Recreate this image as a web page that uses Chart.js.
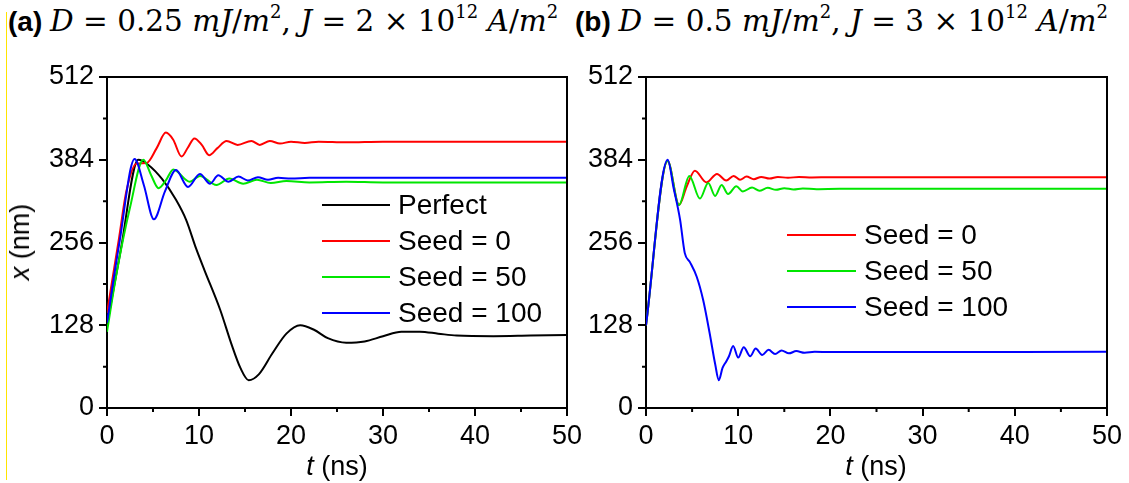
<!DOCTYPE html>
<html>
<head>
<meta charset="utf-8">
<script src="https://cdn.jsdelivr.net/npm/chart.js@4.4.0/dist/chart.umd.min.js"></script>
<style>
  body { margin: 0; background: #fff; width: 1129px; height: 483px; position: relative; overflow: hidden;
         font-family: "Liberation Sans", Arial, sans-serif; color: #000; }
  .edge { position: absolute; left: 6px; top: 12px; width: 1px; height: 468px; background: #ffe400; }
  canvas { position: absolute; top: 0; }
  .hdr { position: absolute; top: 3px; white-space: nowrap; font-size: 28px; line-height: 36px; }
  .hdr b { font-family: "Liberation Sans", Arial, sans-serif; }
  .m { font-family: "DejaVu Serif", serif; font-size: 29.5px; }
  .m sup { font-size: 18px; vertical-align: 13px; line-height: 0; }
  .at { position: absolute; font-size: 27px; white-space: nowrap; line-height: 30px; }
</style>
</head>
<body>
<div class="edge"></div>
<div class="hdr" style="left:8px"><b>(a)</b> <span class="m"><i>D</i> = 0.25 <i>mJ</i>/<i>m</i><sup>2</sup>, <i>J</i> = 2 × 10<sup>12</sup> <i>A</i>/<i>m</i><sup>2</sup></span></div>
<div class="hdr" style="left:575px"><b>(b)</b> <span class="m"><i>D</i> = 0.5 <i>mJ</i>/<i>m</i><sup>2</sup>, <i>J</i> = 3 × 10<sup>12</sup> <i>A</i>/<i>m</i><sup>2</sup></span></div>

<canvas id="chartA" width="600" height="483" style="left:0"></canvas>
<canvas id="chartB" width="569" height="483" style="left:560px"></canvas>

<div class="at" style="left:20px; top:242px; transform: translate(-50%,-50%) rotate(-90deg);"><i>x</i> (nm)</div>
<div class="at" style="left:337px; top:451px; transform: translateX(-50%);"><i>t</i> (ns)</div>
<div class="at" style="left:876px; top:451px; transform: translateX(-50%);"><i>t</i> (ns)</div>

<script>
// axis ticks
const xTicks = [0, 10, 20, 30, 40, 50];
const yTicks = [0, 128, 256, 384, 512];
const xMinor = [5, 15, 25, 35, 45];
const yMinor = [64, 192, 320, 448];

const seriesNames = ['Perfect', 'Seed = 0', 'Seed = 50', 'Seed = 100'];
const seriesColors = ['#000000', '#ff0000', '#00e600', '#0000ff'];

// (a) D = 0.25, J = 2e12
const tPerfectA = [0, 1.5, 3.4, 4.5, 6, 7.5, 8.6, 9.7, 10.6, 12.3, 13.5, 14.5, 15.4, 16.5, 18, 19.5, 21, 22.5, 24, 26, 28, 30, 32, 34, 36, 38, 42, 46, 50];
const xPerfectA = [128, 245, 384, 376, 354, 322, 291, 246, 213, 152, 100, 62, 43, 52, 85, 115, 128, 121, 108, 101, 103, 111, 118, 118, 115, 112, 111, 112, 113];

const tSeed0A = [0, 1.3, 2.1, 3.2, 4.3, 5.4, 6.4, 7.2, 8.1, 8.8, 9.5, 10.3, 11.1, 12, 13, 14.2, 15.7, 16.6, 17.7, 18.8, 20, 21.5, 23, 26, 30, 40, 50];
const xSeed0A = [147, 262, 335, 378, 379, 402, 426, 415, 389, 403, 417, 407, 391, 402, 413, 407, 413, 407, 413, 409, 412, 410, 412, 411, 412, 412, 412];

const tSeed50A = [0, 1.05, 2.5, 3.95, 4.8, 5.6, 6.4, 7.2, 9, 10.1, 11.9, 13.3, 14.8, 16.3, 17.8, 19.5, 22, 26, 30, 40, 50];
const xSeed50A = [118, 209, 310, 384, 360, 340, 352, 369, 350, 359, 345, 355, 347, 353, 348, 351, 349, 350, 349, 349, 349];

const tSeed100A = [0, 1.35, 3.0, 4.0, 5.1, 6.3, 7.5, 8.8, 10.1, 11.2, 12.1, 13.2, 14.3, 15.3, 16.4, 17.5, 18.6, 20, 22, 25, 30, 40, 50];
const xSeed100A = [132, 256, 385, 345, 292, 335, 368, 342, 362, 347, 360, 350, 358, 352, 357, 353, 356, 355, 356, 356, 356, 356, 356];

// (b) D = 0.5, J = 3e12
const tSeed0B = [0, 2.35, 3.58, 4.4, 5.3, 6.55, 7.7, 8.7, 9.5, 10.2, 10.9, 11.7, 12.5, 13.4, 14.3, 15.4, 16.6, 18, 20, 25, 50];
const xSeed0B = [128, 382, 314, 342, 367, 349, 362, 352, 359, 353, 358, 354, 357.5, 355, 357.5, 356, 357.5, 356.5, 357, 357, 357];

const tSeed50B = [0, 2.35, 3.58, 4.7, 5.85, 6.75, 7.5, 8.2, 8.9, 9.8, 10.5, 11.5, 12.3, 13.2, 14.1, 15, 16, 17, 18.5, 21, 50];
const xSeed50B = [128, 382, 314, 359, 324, 348, 328, 345, 331, 343, 335, 341, 336, 340.5, 337.5, 340, 338, 339.5, 338.5, 339, 339];

const tSeed100B = [0, 2.35, 3.0, 3.7, 4.2, 4.75, 5.5, 6.2, 6.9, 7.5, 7.9, 8.3, 8.7, 9.0, 9.45, 10.0, 10.6, 11.3, 11.9, 12.6, 13.3, 14, 14.7, 15.5, 16.3, 17.2, 18.3, 20, 50];
const xSeed100B = [128, 384, 340, 291, 240, 226, 203, 167, 116, 68, 43, 62, 72, 80, 96, 78, 94, 80, 92, 82, 90, 83.5, 89, 84.5, 88, 85.5, 87, 86.5, 87];

const FONT = '"Liberation Sans", Arial, sans-serif';

function pts(ts, xs) {
  return ts.map((t, i) => ({ x: t, y: xs[i] }));
}

function line(idx, ts, xs) {
  return {
    label: seriesNames[idx],
    data: pts(ts, xs),
    borderColor: seriesColors[idx],
    borderWidth: 2,
    pointRadius: 0,
    cubicInterpolationMode: 'monotone',
    order: 4 - idx,
  };
}

// top/right frame, minor ticks and the legend inside the plot
const framePlugin = {
  id: 'framePlugin',
  afterDraw(chart, args, opts) {
    const ctx = chart.ctx, a = chart.chartArea;
    const sx = chart.scales.x, sy = chart.scales.y;
    ctx.save();
    ctx.strokeStyle = '#000';
    ctx.lineWidth = 2;
    ctx.beginPath();
    ctx.moveTo(a.left, a.top);
    ctx.lineTo(a.right, a.top);
    ctx.lineTo(a.right, a.bottom);
    xMinor.forEach(v => {
      const px = sx.getPixelForValue(v);
      ctx.moveTo(px, a.bottom);
      ctx.lineTo(px, a.bottom + 4);
    });
    yMinor.forEach(v => {
      const py = sy.getPixelForValue(v);
      ctx.moveTo(a.left, py);
      ctx.lineTo(a.left - 4, py);
    });
    ctx.stroke();

    ctx.font = '28px ' + FONT;
    ctx.textBaseline = 'middle';
    ctx.fillStyle = '#000';
    chart.data.datasets.forEach((ds, i) => {
      const y = opts.y + i * opts.gap;
      ctx.strokeStyle = ds.borderColor;
      ctx.beginPath();
      ctx.moveTo(opts.x, y);
      ctx.lineTo(opts.x + opts.len, y);
      ctx.stroke();
      ctx.fillText(ds.label, opts.x + opts.len + 8, y + 1);
    });
    ctx.restore();
  }
};

function makeChart(id, datasets, yWidth, padRight, legendPos) {
  new Chart(document.getElementById(id), {
    type: 'line',
    data: { datasets: datasets },
    plugins: [framePlugin],
    options: {
      responsive: false,
      animation: false,
      events: [],
      layout: { padding: { top: 77, right: padRight, left: 0, bottom: 0 } },
      plugins: {
        legend: { display: false },
        tooltip: { enabled: false },
        framePlugin: legendPos,
      },
      scales: {
        x: {
          type: 'linear', min: 0, max: 50,
          afterBuildTicks: s => { s.ticks = xTicks.map(v => ({ value: v })); },
          afterFit: s => { s.height = 75; },
          grid: { drawOnChartArea: false, tickLength: 8, color: '#000', lineWidth: 2 },
          border: { color: '#000', width: 2 },
          ticks: { color: '#000', padding: 4, maxRotation: 0, font: { family: FONT, size: 27 } },
        },
        y: {
          type: 'linear', min: 0, max: 512,
          afterBuildTicks: s => { s.ticks = yTicks.map(v => ({ value: v })); },
          afterFit: s => { s.width = yWidth; },
          grid: { drawOnChartArea: false, tickLength: 8, color: '#000', lineWidth: 2 },
          border: { color: '#000', width: 2 },
          ticks: { color: '#000', padding: 5, font: { family: FONT, size: 27 } },
        }
      }
    }
  });
}

makeChart('chartA', [
  line(0, tPerfectA, xPerfectA),
  line(1, tSeed0A, xSeed0A),
  line(2, tSeed50A, xSeed50A),
  line(3, tSeed100A, xSeed100A),
], 107, 33, { x: 322, y: 205, len: 68, gap: 36 });

makeChart('chartB', [
  line(1, tSeed0B, xSeed0B),
  line(2, tSeed50B, xSeed50B),
  line(3, tSeed100B, xSeed100B),
], 86, 22, { x: 227, y: 235, len: 69, gap: 36 });
</script>
</body>
</html>
